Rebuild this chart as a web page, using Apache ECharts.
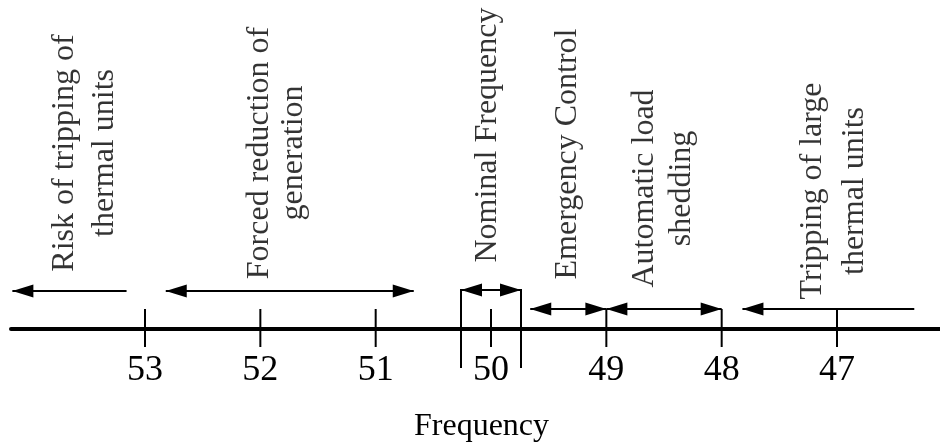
<!DOCTYPE html>
<html><head><meta charset="utf-8">
<script src="https://cdn.jsdelivr.net/npm/echarts@6/dist/echarts.min.js"></script>
<style>html,body{margin:0;padding:0;background:#fff}#c{width:940px;height:442px}</style>
</head><body><div id="c"></div>
<script>
// ---- data ----
const tickValues = [53, 52, 51, 50, 49, 48, 47];
const axisTitle = 'Frequency';
const bandNames = [
  'Risk of tripping of\nthermal units',
  'Forced reduction of\ngeneration',
  'Nominal Frequency',
  'Emergency Control',
  'Automatic load\nshedding',
  'Tripping of large\nthermal units'
];
const bandFrom  = [53.16, 52.82, 50.26, 49.66, 49.00, 46.33];
const bandTo    = [54.15, 50.67, 49.74, 49.00, 48.00, 47.82];
const bandHeads = ['end', 'both', 'both', 'both', 'both', 'end'];
const nominalBounds = [50.26, 49.74];
const labelFreq = [53.52, 51.86, 50.03, 49.34, 48.51, 47.03];

// ---- layout (heights above the axis, in px units of the hidden y axis) ----
const arrowLevel = [38, 38, 39, 20, 20, 20];
const labelHeight = [176, 176, 194, 175, 140.5, 138];
const labelLineHeight = [40, 34, 36, 36, 37, 42];
const FONT = 'Liberation Serif';

const chart = echarts.init(document.getElementById('c'), null, {renderer: 'canvas'});

function lineEl(p1, p2, w) {
  return {type: 'line', shape: {x1: p1[0], y1: p1[1], x2: p2[0], y2: p2[1]}, style: {stroke: '#000', lineWidth: w}};
}
function headEl(tip, dir) {
  return {type: 'polygon', shape: {points: [[tip[0], tip[1]], [tip[0] - dir * 21, tip[1] - 6.5], [tip[0] - dir * 21, tip[1] + 6.5]]}, style: {fill: '#000'}};
}

chart.setOption({
  animation: false,
  backgroundColor: '#fff',
  grid: {left: 11, right: 0, top: 0, bottom: 113, containLabel: false, outerBoundsMode: 'none'},
  xAxis: {
    type: 'value', inverse: true, min: 46.107, max: 54.162,
    splitLine: {show: false},
    axisLine: {show: true, onZero: false, lineStyle: {color: '#000', width: 4}},
    axisTick: {show: false},
    axisLabel: {
      customValues: tickValues, color: '#000', fontSize: 36, fontFamily: FONT, margin: 24,
      formatter: v => String(v)
    },
    name: axisTitle, nameLocation: 'middle', nameGap: 82,
    nameTextStyle: {color: '#000', fontSize: 32, fontFamily: FONT, padding: [0, 0, 0, 12]}
  },
  yAxis: {type: 'value', show: false, min: 0, max: 329},
  series: [
    {
      type: 'custom', silent: true, clip: false,
      data: tickValues.map(v => [v]),
      encode: {x: 0},
      renderItem: (params, api) => lineEl(api.coord([api.value(0), 20]), api.coord([api.value(0), -18]), 2)
    },
    {
      type: 'custom', silent: true, clip: false,
      data: nominalBounds.map(v => [v]),
      encode: {x: 0},
      renderItem: (params, api) => lineEl(api.coord([api.value(0), 40]), api.coord([api.value(0), -39]), 2)
    },
    {
      type: 'custom', silent: true, clip: false,
      data: bandFrom.map((f, i) => [f, bandTo[i], arrowLevel[i], i]),
      encode: {x: [0, 1], y: 2},
      renderItem: (params, api) => {
        const a = api.coord([api.value(0), api.value(2)]);
        const b = api.coord([api.value(1), api.value(2)]);
        const i = api.value(3);
        const dir = b[0] > a[0] ? 1 : -1;
        const children = [lineEl(a, b, 2), headEl(b, dir)];
        if (bandHeads[i] === 'both') children.push(headEl(a, -dir));
        return {type: 'group', children};
      }
    },
    {
      type: 'scatter', silent: true, symbolSize: 0,
      data: bandNames.map((n, i) => ({
        name: n, value: [labelFreq[i], labelHeight[i]],
        label: {lineHeight: labelLineHeight[i]}
      })),
      label: {
        show: true, position: 'inside', rotate: 90, align: 'center', verticalAlign: 'middle',
        color: '#000', fontSize: 32, fontFamily: FONT, formatter: p => p.name
      }
    }
  ]
});
</script></body></html>
